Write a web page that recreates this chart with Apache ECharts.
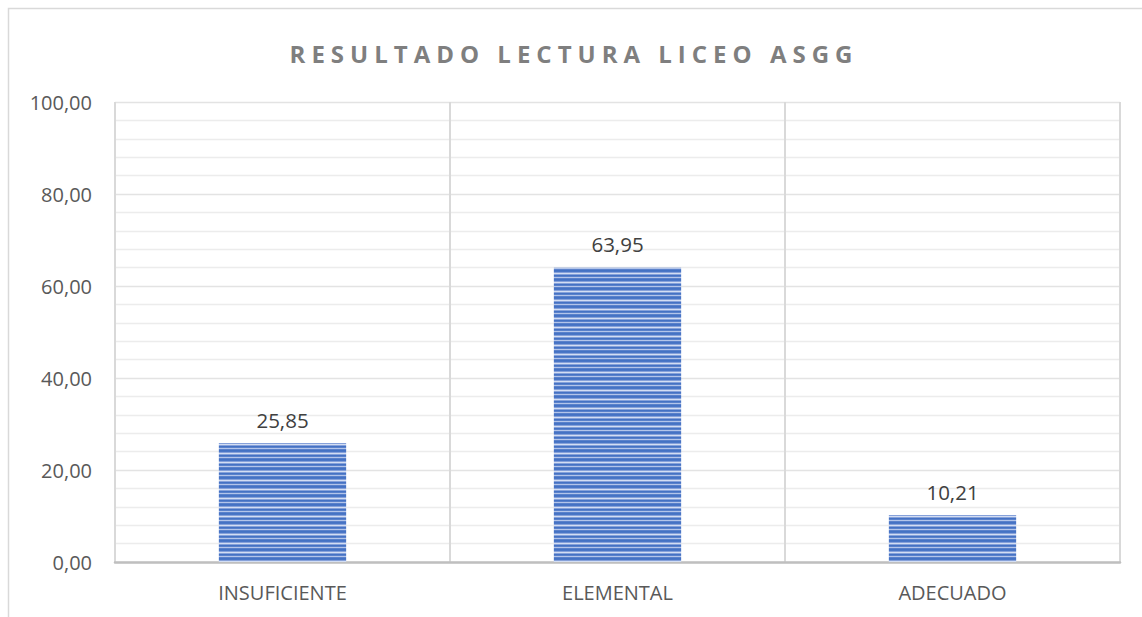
<!DOCTYPE html>
<html>
<head>
<meta charset="utf-8">
<script src="https://cdn.jsdelivr.net/npm/echarts@6/dist/echarts.min.js"></script>
<style>
  html, body { margin: 0; padding: 0; background: #fff; }
  #chart { width: 1142px; height: 617px; }
</style>
</head>
<body>
<div id="chart"></div>
<script>
// data
const titleText = 'RESULTADO LECTURA LICEO ASGG';
const categories = ['INSUFICIENTE', 'ELEMENTAL', 'ADECUADO'];
const values = [25.85, 63.95, 10.21];
const yTicks = [0, 20, 40, 60, 80, 100];

// horizontal stripe fill like the office pattern
function stripePattern() {
    const cv = document.createElement('canvas');
    cv.width = 8;
    cv.height = 9;
    const ctx = cv.getContext('2d');
    const rows = ['#4472c4', '#4a76c6', '#86a1da', '#d3def3', '#86a1da', '#4472c4', '#5a81cb', '#b3c5ea', '#5a81cb'];
    rows.forEach((c, i) => {
        ctx.fillStyle = c;
        ctx.fillRect(0, i, 8, 1);
    });
    return cv;
}

const fmt = v => v.toFixed(2).replace('.', ',');

let chartDom = document.getElementById('chart');
let myChart = echarts.init(chartDom, null, { renderer: 'svg' });
let option = {
    animation: false,
    textStyle: { fontFamily: 'Open Sans' },
    title: {
        text: titleText,
        left: 'center',
        top: 36,
        textStyle: {
            fontFamily: 'Open Sans',
            fontSize: 24,
            fontWeight: 'bold',
            color: '#7f7f7f'
        }
    },
    graphic: [{
        type: 'rect',
        shape: { x: 8.5, y: 8.5, width: 1160, height: 640 },
        style: { fill: 'none', stroke: '#d9d9d9', lineWidth: 1.5 },
        silent: true
    }],
    grid: { left: 115, right: 22, top: 102, bottom: 55 },
    xAxis: {
        type: 'category',
        data: categories,
        axisTick: { show: false },
        axisLine: { lineStyle: { color: '#bfbfbf', width: 2.5 } },
        axisLabel: { color: '#595959', fontSize: 20, margin: 20 },
        splitLine: { show: true, lineStyle: { color: '#d9d9d9', width: 2 } }
    },
    yAxis: {
        type: 'value',
        min: yTicks[0],
        max: yTicks[yTicks.length - 1],
        interval: 20,
        axisLine: { show: false },
        axisTick: { show: false },
        axisLabel: { color: '#595959', fontSize: 20, margin: 23, formatter: fmt },
        splitLine: { lineStyle: { color: '#e3e3e3', width: 1.3 } },
        minorTick: { show: false, splitNumber: 5 },
        minorSplitLine: { show: true, lineStyle: { color: '#ececec', width: 1.3 } }
    },
    series: [{
        type: 'bar',
        data: values,
        barWidth: '38%',
        itemStyle: { color: { image: stripePattern(), repeat: 'repeat' } },
        label: {
            show: true,
            position: 'top',
            distance: 13,
            fontSize: 20.5,
            color: '#404040',
            formatter: p => fmt(p.value)
        }
    }]
};
myChart.setOption(option);

// office title has wide character spacing; widen it and re-center
chartDom.querySelectorAll('text').forEach(t => {
    if (t.textContent === titleText) {
        t.style.letterSpacing = '6px';
        t.setAttribute('text-anchor', 'start');
        const bb = t.getBBox();
        const x0 = parseFloat(t.getAttribute('x') || 0);
        const m = t.getCTM();
        const left = bb.x + (m ? m.e : 0);
        const shift = (1142 / 2) - (left + (bb.width - 6) / 2);
        t.setAttribute('x', x0 + shift);
    }
});
</script>
</body>
</html>
